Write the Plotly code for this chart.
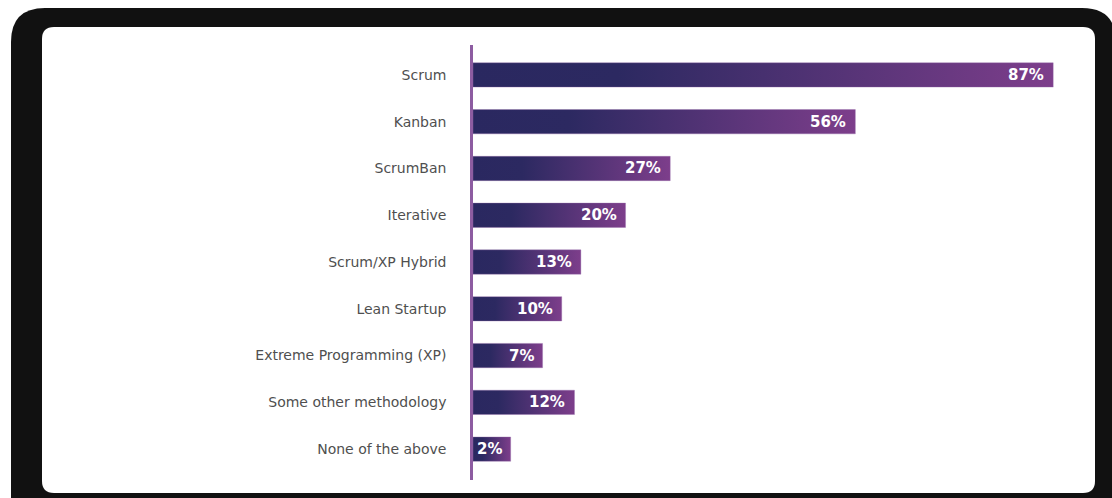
import plotly.graph_objects as go

categories = ["Scrum", "Kanban", "ScrumBan", "Iterative", "Scrum/XP Hybrid",
              "Lean Startup", "Extreme Programming (XP)", "Some other methodology",
              "None of the above"]
values = [87, 56, 27, 20, 13, 10, 7, 12, 2]
value_labels = [f"{v}%" for v in values]

W, H = 1112, 498
ML, MR, MT, MB = 473, 39, 45, 18
PW, PH = W - ML - MR, H - MT - MB
X_MIN, X_MAX = -3.9, 90.1   # bars start at the axis (left edge of the scale)

def px(x):
    return (x - ML) / PW

def py(y):
    return (H - MB - y) / PH

def rrect(x0, y0, x1, y1, r):
    a0, a1 = px(x0), px(x1)
    b0, b1 = py(y0), py(y1)
    rx, ry = r / PW, r / PH
    return (f"M {a0+rx},{b0} L {a1-rx},{b0} Q {a1},{b0} {a1},{b0-ry} "
            f"L {a1},{b1+ry} Q {a1},{b1} {a1-rx},{b1} L {a0+rx},{b1} "
            f"Q {a0},{b1} {a0},{b1+ry} L {a0},{b0-ry} Q {a0},{b0} {a0+rx},{b0} Z")

fig = go.Figure()
half = 0.26
for i, (c, v, t) in enumerate(zip(categories, values, value_labels)):
    fig.add_trace(go.Scatter(
        x=[X_MIN, v, v, X_MIN, X_MIN], y=[i - half, i - half, i + half, i + half, i - half],
        mode="lines", fill="toself", line=dict(width=0.6, color="rgba(150,110,170,0.6)"),
        fillgradient=dict(type="horizontal",
                          colorscale=[[0, "#2a2860"], [0.25, "#2c2961"], [1, "#7d3e8b"]]),
        hoverinfo="skip", showlegend=False))
    fig.add_annotation(x=v, y=i, text=f"<b>{t}</b>", showarrow=False,
                       xanchor="right", xshift=-7,
                       font=dict(family="DejaVu Sans", size=15, color="#ffffff"))

fig.update_layout(
    width=W, height=H, margin=dict(l=ML, r=MR, t=MT, b=MB),
    paper_bgcolor="white", plot_bgcolor="rgba(0,0,0,0)",
    xaxis=dict(range=[X_MIN, X_MAX], visible=False),
    yaxis=dict(range=[8.66, -0.64], tickmode="array",
               tickvals=list(range(len(categories))), ticktext=categories,
               showgrid=False, zeroline=False, showline=True,
               linecolor="#8d5ca1", linewidth=2.5,
               ticks="outside", ticklen=21, tickcolor="rgba(0,0,0,0)",
               tickfont=dict(family="DejaVu Sans", size=14, color="#4f4f4f")),
    shapes=[
        dict(type="path", xref="paper", yref="paper", layer="below",
             path=rrect(11, 8, 1116, 540, 34), fillcolor="#111111", line=dict(width=0)),
        dict(type="path", xref="paper", yref="paper", layer="below",
             path=rrect(42, 27, 1095, 493, 12), fillcolor="#ffffff", line=dict(width=0)),
    ],
)

fig.write_html("out.html")
